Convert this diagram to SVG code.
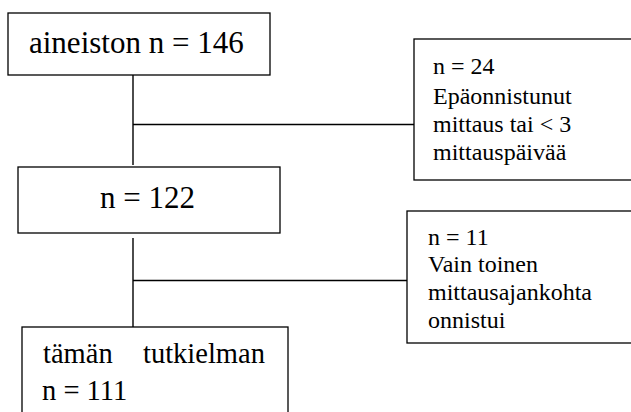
<svg xmlns="http://www.w3.org/2000/svg" width="631" height="412" viewBox="0 0 631 412">
<style>
.box{fill:#fff;stroke:#000;stroke-width:1.3}
.ln{stroke:#000;stroke-width:1.4;fill:none}
.t{font-family:"Liberation Serif",serif;fill:#000}
.big{font-size:31px}
.mid{font-size:28.5px}
.sm{font-size:24px}
</style>
<rect width="631" height="412" fill="#fff"/>
<g id="connectors">
<line class="ln" x1="133" y1="75" x2="133" y2="165"/>
<line class="ln" x1="133" y1="124.5" x2="414" y2="124.5"/>
<line class="ln" x1="133" y1="238" x2="133" y2="327"/>
<line class="ln" x1="133" y1="280.5" x2="407" y2="280.5"/>
</g>
<g id="n146">
<rect class="box" x="8" y="13" width="262" height="62"/>
<text class="t big" font-family="Liberation Serif" x="29" y="53">aineiston n = 146</text>
</g>
<g id="n122">
<rect class="box" x="18" y="167" width="262" height="66"/>
<text class="t big" font-family="Liberation Serif" x="100" y="208">n = 122</text>
</g>
<g id="n111">
<rect class="box" x="22" y="327" width="266" height="100"/>
<text class="t mid" font-family="Liberation Serif" x="43" y="363">tämän</text>
<text class="t mid" font-family="Liberation Serif" x="143" y="363">tutkielman</text>
<text class="t mid" font-family="Liberation Serif" x="42" y="400">n = 111</text>
</g>
<g id="n24">
<rect class="box" x="414" y="39" width="230" height="141"/>
<text class="t sm" font-family="Liberation Serif" x="433" y="74">n = 24</text>
<text class="t sm" font-family="Liberation Serif" x="433" y="104">Epäonnistunut</text>
<text class="t sm" font-family="Liberation Serif" x="433" y="132">mittaus tai &lt; 3</text>
<text class="t sm" font-family="Liberation Serif" x="433" y="160">mittauspäivää</text>
</g>
<g id="n11">
<rect class="box" x="407" y="211" width="240" height="132"/>
<text class="t sm" font-family="Liberation Serif" x="428" y="245">n = 11</text>
<text class="t sm" font-family="Liberation Serif" x="428" y="272">Vain toinen</text>
<text class="t sm" font-family="Liberation Serif" x="428" y="300">mittausajankohta</text>
<text class="t sm" font-family="Liberation Serif" x="428" y="328">onnistui</text>
</g>
</svg>
